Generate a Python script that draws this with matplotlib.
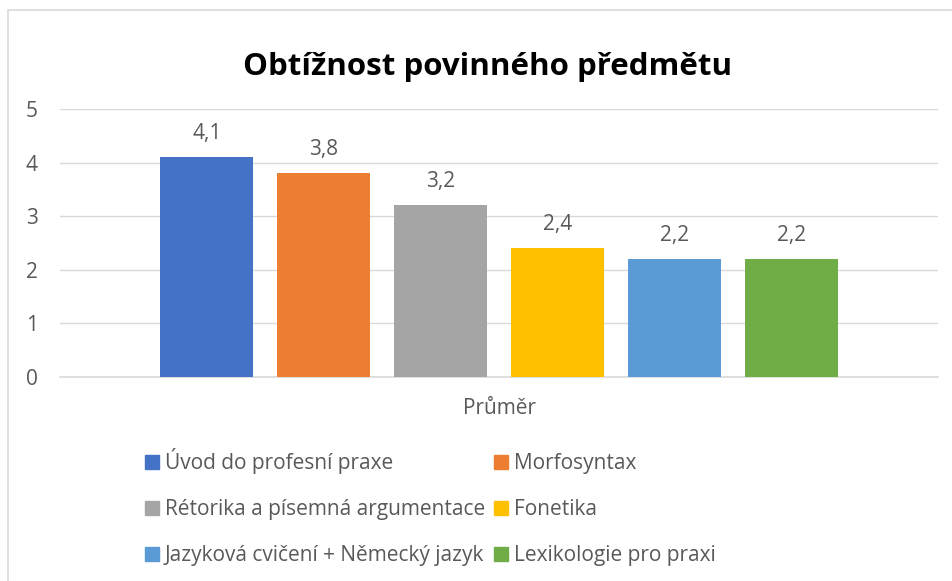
import matplotlib.pyplot as plt
from matplotlib.patches import Rectangle, Patch

plt.rcParams['font.family'] = ['Open Sans', 'DejaVu Sans']

subjects = ["Úvod do profesní praxe", "Morfosyntax", "Rétorika a písemná argumentace",
            "Fonetika", "Jazyková cvičení + Německý jazyk", "Lexikologie pro praxi"]
values = [4.1, 3.8, 3.2, 2.4, 2.2, 2.2]
colors = ["#4472C4", "#ED7D31", "#A5A5A5", "#FFC000", "#5B9BD5", "#70AD47"]
category = "Průměr"
title = "Obtížnost povinného předmětu"

W, H = 953, 581
fig = plt.figure(figsize=(W / 100, H / 100), dpi=100)
ax = fig.add_axes([60 / W, 1 - 377 / H, (938 - 60) / W, (377 - 109) / H])

txt = "#595959"
grid = "#D9D9D9"
fs = 15

x = list(range(len(values)))
bars = ax.bar(x, values, width=0.795, color=colors, zorder=3)
ax.bar_label(bars, labels=[f"{v:.1f}".replace(".", ",") for v in values],
             padding=9.5, fontsize=fs, color=txt)

ax.set_xlim(-1.256, 6.248)
ax.set_ylim(0, 5)
ax.set_yticks(range(6))
ax.set_xticks([2.5])
ax.set_xticklabels([category])
ax.tick_params(axis="both", length=0, labelsize=fs, labelcolor=txt)
ax.tick_params(axis="y", pad=16)
ax.tick_params(axis="x", pad=15)
ax.yaxis.grid(True, color=grid, linewidth=1, zorder=0)
for s in ["top", "right", "left"]:
    ax.spines[s].set_visible(False)
ax.spines["bottom"].set_color(grid)
ax.spines["bottom"].set_linewidth(1.2)

fig.text(488 / W, 1 - 75 / H, title, ha="center", va="baseline",
         fontsize=22.5, fontweight="bold", color="black")

# chart border (cropped on right/bottom)
fig.patches.append(Rectangle((8 / W, -0.1), 1.2, 1 - 10 / H + 0.1,
                             transform=fig.transFigure, fill=False,
                             edgecolor=grid, linewidth=1.2))

order = [0, 2, 4, 1, 3, 5]
handles = [Patch(color=colors[i], label=subjects[i]) for i in order]
fig.legend(handles=handles, ncol=2, loc="upper left",
           bbox_to_anchor=(145 / W, 1 - 448 / H), frameon=False,
           fontsize=fs, labelcolor=txt, borderpad=0, borderaxespad=0,
           handlelength=0.67, handleheight=0.67, handletextpad=0.29,
           labelspacing=1.2, columnspacing=0.43)

fig.savefig("out.png", dpi=100)
